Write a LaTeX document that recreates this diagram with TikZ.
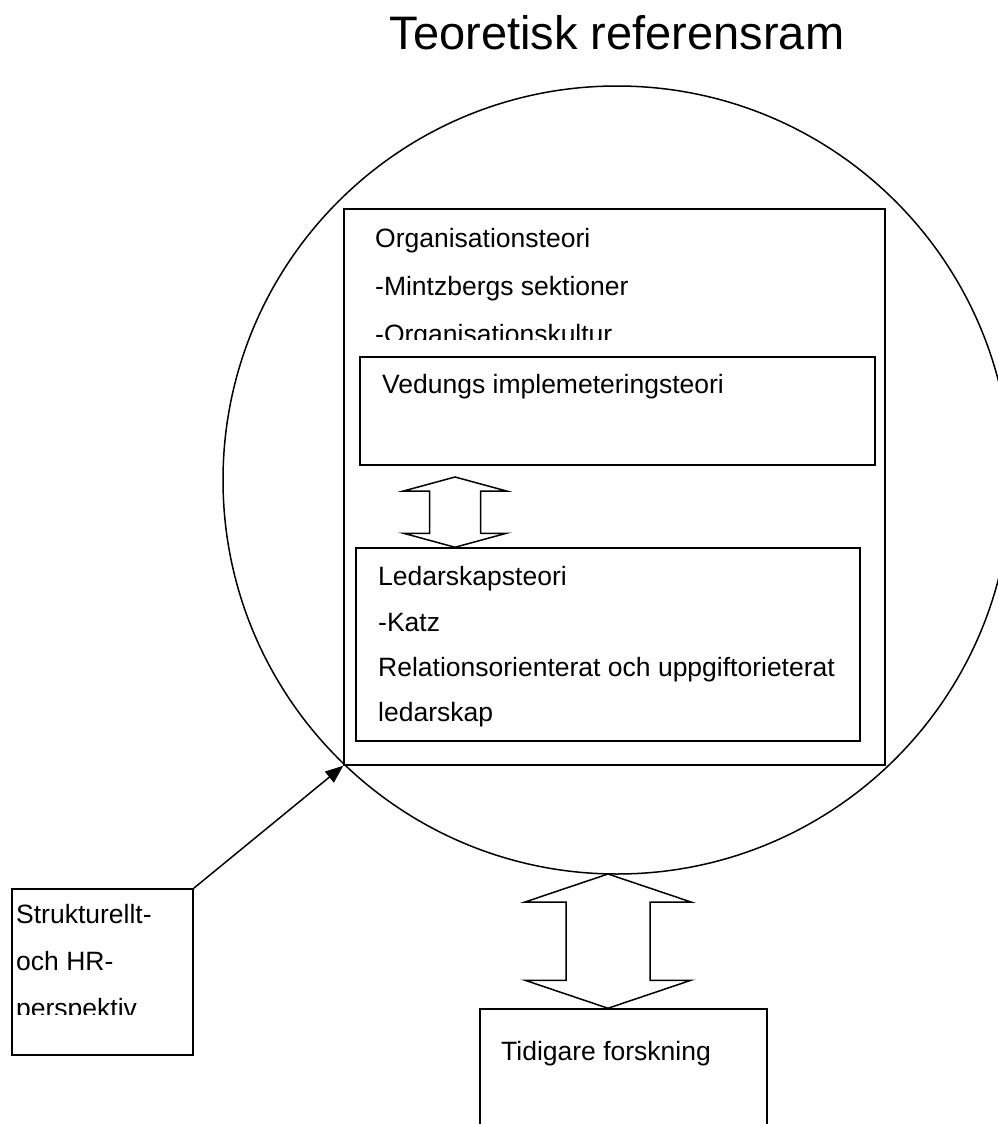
\documentclass[tikz,border=0pt]{standalone}
\usepackage{fontspec}
\setmainfont{Liberation Sans}
\usetikzlibrary{arrows.meta,calc,positioning}

\tikzset{
  ruta/.style={draw, line width=1.5pt, inner sep=0pt},
  rad/.style={anchor=base west, inner sep=0pt, font=\fontsize{26.5}{30}\selectfont},
  rubrik/.style={anchor=base, inner sep=0pt, font=\fontsize{47}{56}\selectfont},
  blockpil/.style={draw, line width=1.5pt, line join=miter},
}
\newcommand{\dubbelpil}[5]{%
  \draw[blockpil] (#1) -- ($(#1)+(#4,#5)$) -- ($(#1)+(#3,#5)$) -- ($(#2)+(#3,-#5)$)
    -- ($(#2)+(#4,-#5)$) -- (#2) -- ($(#2)+(-#4,-#5)$) -- ($(#2)+(-#3,-#5)$)
    -- ($(#1)+(-#3,#5)$) -- ($(#1)+(-#4,#5)$) -- cycle;
}

\begin{document}
\begin{tikzpicture}[x=1pt, y=-1pt]
          \clip (0,0) rectangle (998,1124);

          \node[rubrik] (titel) at (617,50) {Teoretisk referensram};

          \node[draw, circle, line width=1.5pt, minimum size=788pt, inner sep=0pt] (cirkel) at (617,480) {};

          \node[ruta, minimum width=541pt, minimum height=556pt] (ram) at (614.5,487) {};
          \node[ruta, minimum width=515pt, minimum height=108pt] (vedung) at (617.5,411) {};
          \node[ruta, minimum width=504pt, minimum height=193pt] (ledar) at (608,644.5) {};
          \node[ruta, minimum width=181pt, minimum height=166pt] (strukt) at (102.5,972) {};
          \node[ruta, minimum width=287pt, minimum height=140pt] (tidigare) at (623.5,1079) {};

          \node[rad] (org1) at (375,247) {Organisationsteori};
          \node[rad] (org2) at (375,295) {-Mintzbergs sektioner};
          \begin{scope}
            \clip (344,209) rectangle (885,339);
            \node[rad] (org3) at (375,343) {-Organisationskultur};
          \end{scope}

          \node[rad] (ved1) at (382,393) {Vedungs implemeteringsteori};

          \node[rad] (led1) at (378,585) {Ledarskapsteori};
          \node[rad] (led2) at (378,631) {-Katz};
          \node[rad] (led3) at (378,676) {Relationsorienterat och uppgiftorieterat};
          \node[rad] (led4) at (378,721) {ledarskap};

          \node[rad] (str1) at (16,923) {Strukturellt-};
          \node[rad] (str2) at (16,970) {och HR-};
          \begin{scope}
            \clip (12,889) rectangle (193,1014);
            \node[rad] (str3) at (16,1017) {perspektiv};
          \end{scope}

          \node[rad] (tid1) at (501,1060) {Tidigare forskning};

          \draw[-{Triangle[length=18pt,width=14pt]}, line width=1.5pt] (strukt.north east) -- (ram.south west);

          \coordinate (pilA1) at (455,477);
          \coordinate (pilA2) at (pilA1 |- ledar.north);
          \dubbelpil{pilA1}{pilA2}{25.5}{51.5}{14}

          \coordinate (pilB1) at (608,874);
          \coordinate (pilB2) at (pilB1 |- tidigare.north);
          \dubbelpil{pilB1}{pilB2}{42}{83}{28}
        \end{tikzpicture}
\end{document}
